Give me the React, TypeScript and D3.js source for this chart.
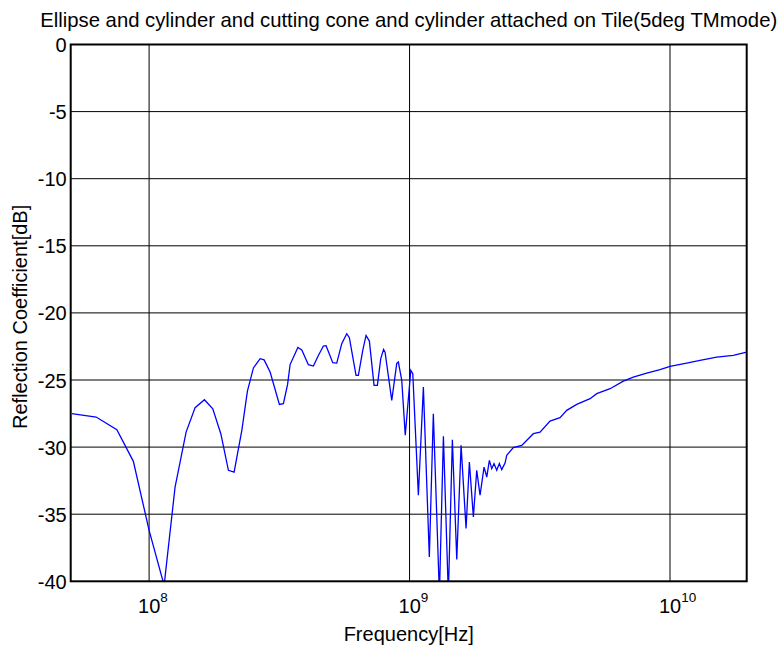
import React from "react";
import * as d3 from "d3";

const titleText = "Ellipse and cylinder and cutting cone and cylinder attached on Tile(5deg TMmode)";
const xLabel = "Frequency[Hz]";
const yLabel = "Reflection Coefficient[dB]";

const xDomain = [5e7, 1.97e10];
const yDomain = [-40, 0];
const xTickExps = [8, 9, 10];
const yTicks = [0, -5, -10, -15, -20, -25, -30, -35, -40];

const freqHz = [
  5.05e7, 6.26e7, 7.52e7, 8.7e7, 1.0e8, 1.142e8, 1.258e8, 1.387e8, 1.502e8, 1.631e8,
  1.756e8, 1.885e8, 2.016e8, 2.12e8, 2.27e8, 2.385e8, 2.515e8, 2.668e8, 2.764e8, 2.915e8,
  3.164e8, 3.278e8, 3.402e8, 3.478e8, 3.726e8, 3.857e8, 4.088e8, 4.273e8, 4.466e8, 4.668e8,
  4.781e8, 5.072e8, 5.254e8, 5.491e8, 5.739e8, 5.873e8, 6.231e8, 6.36e8, 6.612e8, 6.808e8,
  7.01e8, 7.307e8, 7.524e8, 7.753e8, 7.948e8, 8.054e8, 8.544e8, 8.93e8, 9.057e8, 9.334e8,
  9.627e8, 1.011e9, 1.029e9, 1.081e9, 1.13e9, 1.191e9, 1.234e9, 1.302e9, 1.349e9, 1.409e9,
  1.46e9, 1.518e9, 1.577e9, 1.648e9, 1.697e9, 1.758e9, 1.811e9, 1.865e9, 1.932e9, 1.979e9,
  2.025e9, 2.068e9, 2.11e9, 2.161e9, 2.212e9, 2.259e9, 2.326e9, 2.361e9, 2.503e9, 2.696e9,
  2.987e9, 3.17e9, 3.462e9, 3.782e9, 4.013e9, 4.384e9, 4.932e9, 5.232e9, 5.886e9, 6.619e9,
  7.229e9, 8.14e9, 9.156e9, 1.0e10, 1.159e10, 1.304e10, 1.511e10, 1.75e10, 1.97e10,
];

const reflDb = [
  -27.51, -27.76, -28.7, -31.06, -36.2, -40.3, -32.98, -28.88, -27.06, -26.47,
  -27.14, -29.0, -31.73, -31.86, -28.75, -25.83, -24.1, -23.41, -23.5, -24.41,
  -26.82, -26.76, -25.33, -23.85, -22.57, -22.76, -23.86, -23.96, -23.17, -22.47,
  -22.44, -23.71, -23.74, -22.29, -21.55, -21.85, -24.66, -24.66, -22.79, -21.68,
  -22.1, -25.4, -25.4, -23.41, -22.72, -22.92, -26.52, -23.76, -23.66, -25.03,
  -29.12, -24.28, -24.53, -33.59, -25.53, -38.19, -27.51, -41.0, -29.2, -41.0,
  -29.45, -38.38, -29.87, -36.07, -31.11, -35.21, -31.73, -33.59, -31.49, -32.23,
  -30.99, -31.61, -31.23, -31.73, -31.23, -31.68, -31.19, -30.61, -30.04, -29.87,
  -29.0, -28.88, -28.06, -27.81, -27.26, -26.82, -26.39, -26.02, -25.65, -25.08,
  -24.78, -24.48, -24.23, -23.99, -23.74, -23.54, -23.29, -23.17, -22.92,
];

const W = 779;
const H = 648;
const M = { left: 70.7, right: 746.7, top: 44.5, bottom: 581.3 };
const FONT = "'Liberation Sans', Arial, Helvetica, sans-serif";

export default function App() {
  const x = d3.scaleLog().domain(xDomain).range([M.left, M.right]);
  const y = d3.scaleLinear().domain(yDomain).range([M.bottom, M.top]);
  const pts: [number, number][] = freqHz.map((f, i) => [f, reflDb[i]]);
  const line = d3
    .line<[number, number]>()
    .x((d) => x(d[0]))
    .y((d) => y(d[1]));
  const cx = (M.left + M.right) / 2;
  const cy = (M.top + M.bottom) / 2;

  return (
    <svg
      width={W}
      height={H}
      style={{ position: "absolute", left: 0, top: 0, background: "#fff" }}
      fontFamily={FONT}
    >
      <rect x={0} y={0} width={W} height={H} fill="#fff" />
      <defs>
        <clipPath id="plotClip">
          <rect x={M.left} y={M.top} width={M.right - M.left} height={M.bottom - M.top} />
        </clipPath>
      </defs>
      {yTicks
        .filter((t) => t !== 0 && t !== -40)
        .map((t) => (
          <line key={"gy" + t} x1={M.left} x2={M.right} y1={y(t)} y2={y(t)} stroke="#000" strokeWidth={1} />
        ))}
      {xTickExps.map((e) => (
        <line
          key={"gx" + e}
          x1={x(Math.pow(10, e))}
          x2={x(Math.pow(10, e))}
          y1={M.top}
          y2={M.bottom}
          stroke="#000"
          strokeWidth={1}
        />
      ))}
      <path d={line(pts) || ""} fill="none" stroke="#0000ff" strokeWidth={1.3} clipPath="url(#plotClip)" />
      <rect
        x={M.left}
        y={M.top}
        width={M.right - M.left}
        height={M.bottom - M.top}
        fill="none"
        stroke="#000"
        strokeWidth={2}
      />
      {yTicks.map((t) => (
        <text key={"ty" + t} x={M.left - 4} y={y(t) + 7.5} textAnchor="end" fontSize={20} fill="#000">
          {String(t)}
        </text>
      ))}
      {xTickExps.map((e) => (
        <text key={"tx" + e} x={x(Math.pow(10, e)) - 11} y={613} fontSize={20} fill="#000">
          10
          <tspan dy={-11} fontSize={13.5}>
            {String(e)}
          </tspan>
        </text>
      ))}
      <text x={cx} y={27} textAnchor="middle" fontSize={20.3} fill="#000">
        {titleText}
      </text>
      <text x={cx} y={641} textAnchor="middle" fontSize={20} fill="#000">
        {xLabel}
      </text>
      <text
        transform={`translate(27, ${cy + 4}) rotate(-90)`}
        textAnchor="middle"
        fontSize={20}
        fill="#000"
      >
        {yLabel}
      </text>
    </svg>
  );
}
